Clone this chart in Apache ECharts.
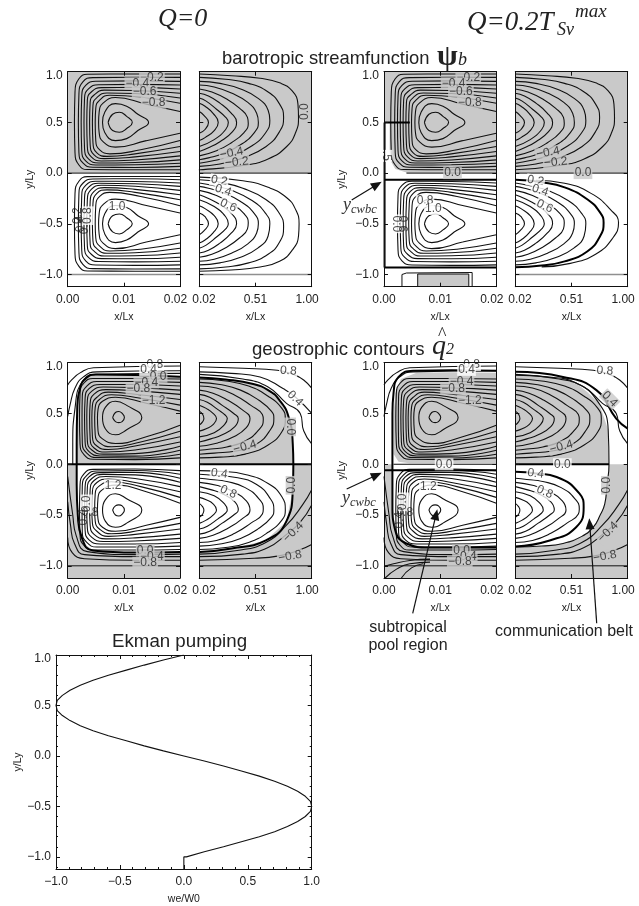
<!DOCTYPE html>
<html><head><meta charset="utf-8">
<style>html,body{margin:0;padding:0;background:#fff}#c{width:639px;height:906px}</style>
<script src="https://cdn.jsdelivr.net/npm/echarts@6/dist/echarts.min.js"></script></head>
<body><div id="c"></div>
<script>
// ---------- tick labels ----------
const yTickValues=[-1,-.5,0,.5,1];
const yLabelPos=[-1,-.5,0,.5,.96];
const yLabels=['−1.0','−0.5','0.0','0.5','1.0'];
const westTicks=[0,.01,.02], westLabelPos=[0,.01,.0192], westLabels=['0.00','0.01','0.02'];
const eastTicks=[.02,.51,1], eastLabelPos=[.06,.51,.96], eastLabels=['0.02','0.51','1.00'];
const ekmanXTicks=[-1,-.5,0,.5,1], ekmanXLabels=['−1.0','−0.5','0.0','0.5','1.0'];
const ekmanYMinor=[-1.1,-.9,-.8,-.7,-.6,-.4,-.3,-.2,-.1,.1,.2,.3,.4,.6,.7,.8,.9];

// ---------- Ekman pumping ----------
const ekmanY=[1,.95,.9,.85,.8,.75,.7,.65,.6,.55,.5,.45,.4,.35,.3,.25,.2,.15,.1,.05,0,-.05,-.1,-.15,-.2,-.25,-.3,-.35,-.4,-.45,-.5,-.55,-.6,-.65,-.7,-.75,-.8,-.85,-.9,-.95,-1,-1,-1.12];
const ekmanWe=[0,-.16,-.31,-.45,-.59,-.71,-.81,-.89,-.95,-.99,-1,-.99,-.95,-.89,-.81,-.71,-.59,-.45,-.31,-.16,0,.16,.31,.45,.59,.71,.81,.89,.95,.99,1,.99,.95,.89,.81,.71,.59,.45,.31,.16,.02,0,0];

// ---------- barotropic streamfunction contours ----------
const psiWestN=[
[[.02,.977],[.012,.977],[.0035,.975],[.002,.93],[.0013,.8],[.0012,.5],[.0013,.2],[.002,.08],[.0035,.035],[.012,.033],[.02,.033]],
[[.02,.944],[.012,.946],[.0045,.942],[.0027,.9],[.002,.78],[.0019,.5],[.002,.2],[.0027,.1],[.0045,.058],[.012,.056],[.02,.066]],
[[.02,.905],[.012,.91],[.005,.906],[.0032,.865],[.0025,.76],[.0024,.5],[.0025,.22],[.0032,.12],[.005,.08],[.012,.082],[.02,.098]],
[[.02,.869],[.012,.875],[.0055,.872],[.0037,.83],[.003,.74],[.0029,.5],[.003,.24],[.0037,.14],[.0055,.1],[.012,.105],[.02,.131]],
[[.02,.83],[.012,.845],[.006,.843],[.0042,.8],[.0035,.72],[.0034,.5],[.0035,.26],[.0042,.16],[.006,.12],[.012,.13],[.02,.17]],
[[.02,.787],[.012,.815],[.0065,.818],[.0047,.77],[.004,.7],[.0039,.5],[.004,.28],[.0047,.18],[.0065,.143],[.012,.16],[.02,.213]],
[[.02,.741],[.012,.785],[.007,.79],[.0052,.745],[.0045,.67],[.0044,.5],[.0045,.3],[.0052,.2],[.007,.165],[.012,.19],[.02,.262]],
[[.02,.689],[.013,.75],[.0075,.768],[.0057,.72],[.005,.64],[.0049,.5],[.005,.32],[.0057,.23],[.0075,.19],[.013,.23],[.02,.321]],
[[.02,.607],[.014,.68],[.0085,.745],[.0063,.69],[.0056,.6],[.0055,.5],[.0056,.4],[.0063,.31],[.0085,.256],[.014,.32],[.02,.393]],
[[.0062,.5],[.0066,.6],[.0085,.685],[.0105,.66],[.0125,.58],[.0144,.5],[.0125,.42],[.0105,.34],[.0085,.32],[.0066,.4],[.0062,.5]],
[[.0072,.5],[.008,.58],[.0092,.6],[.0105,.56],[.0115,.5],[.0105,.44],[.0092,.403],[.008,.42],[.0072,.5]]];
const psiWestS=[
[[.02,-.967],[.012,-.967],[.0035,-.965],[.002,-.92],[.0013,-.8],[.0012,-.5],[.0013,-.2],[.002,-.08],[.0035,-.035],[.012,-.033],[.02,-.033]],
[[.02,-.944],[.012,-.946],[.0045,-.942],[.0027,-.9],[.002,-.78],[.0019,-.5],[.002,-.2],[.0027,-.1],[.0045,-.058],[.012,-.056],[.02,-.066]],
[[.02,-.905],[.012,-.91],[.005,-.906],[.0032,-.865],[.0025,-.76],[.0024,-.5],[.0025,-.22],[.0032,-.12],[.005,-.08],[.012,-.082],[.02,-.098]],
[[.02,-.869],[.012,-.875],[.0055,-.872],[.0037,-.83],[.003,-.74],[.0029,-.5],[.003,-.24],[.0037,-.14],[.0055,-.1],[.012,-.105],[.02,-.131]],
[[.02,-.83],[.012,-.845],[.006,-.843],[.0042,-.8],[.0035,-.72],[.0034,-.5],[.0035,-.26],[.0042,-.16],[.006,-.12],[.012,-.13],[.02,-.17]],
[[.02,-.787],[.012,-.815],[.0065,-.818],[.0047,-.77],[.004,-.7],[.0039,-.5],[.004,-.28],[.0047,-.18],[.0065,-.143],[.012,-.16],[.02,-.213]],
[[.02,-.741],[.012,-.785],[.007,-.79],[.0052,-.745],[.0045,-.67],[.0044,-.5],[.0045,-.3],[.0052,-.2],[.007,-.165],[.012,-.19],[.02,-.262]],
[[.02,-.689],[.013,-.75],[.0075,-.768],[.0057,-.72],[.005,-.64],[.0049,-.5],[.005,-.32],[.0057,-.23],[.0075,-.19],[.013,-.23],[.02,-.321]],
[[.02,-.607],[.014,-.68],[.0085,-.745],[.0063,-.69],[.0056,-.6],[.0055,-.5],[.0056,-.4],[.0063,-.31],[.0085,-.256],[.014,-.32],[.02,-.393]],
[[.0062,-.5],[.0066,-.6],[.0085,-.685],[.0105,-.66],[.0125,-.58],[.0144,-.5],[.0125,-.42],[.0105,-.34],[.0085,-.32],[.0066,-.4],[.0062,-.5]],
[[.0072,-.5],[.008,-.58],[.0092,-.6],[.0105,-.56],[.0115,-.5],[.0105,-.44],[.0092,-.403],[.008,-.42],[.0072,-.5]]];
const psiEastN=[
[[.02,.977],[.3,.96],[.55,.935],[.72,.89],[.83,.81],[.88,.68],[.885,.55],[.86,.4],[.78,.26],[.62,.14],[.4,.075],[.02,.033]],
[[.02,.944],[.25,.925],[.45,.885],[.62,.8],[.72,.68],[.755,.55],[.72,.41],[.6,.26],[.4,.15],[.2,.09],[.02,.066]],
[[.02,.905],[.2,.885],[.38,.83],[.53,.74],[.62,.62],[.635,.52],[.6,.4],[.48,.27],[.3,.17],[.15,.125],[.02,.098]],
[[.02,.869],[.15,.85],[.3,.79],[.44,.7],[.52,.59],[.535,.5],[.5,.4],[.38,.28],[.22,.19],[.1,.15],[.02,.131]],
[[.02,.83],[.13,.8],[.26,.73],[.37,.64],[.44,.55],[.447,.49],[.41,.4],[.3,.3],[.17,.22],[.02,.17]],
[[.02,.787],[.1,.76],[.2,.69],[.3,.59],[.345,.5],[.31,.41],[.2,.31],[.1,.25],[.02,.213]],
[[.02,.741],[.08,.71],[.17,.63],[.25,.55],[.273,.5],[.25,.43],[.15,.33],[.02,.262]],
[[.02,.689],[.07,.66],[.14,.59],[.185,.5],[.15,.42],[.07,.35],[.02,.321]],
[[.02,.607],[.06,.57],[.1,.5],[.07,.43],[.02,.393]]];
const psiEastS=[
[[.02,-.967],[.3,-.955],[.55,-.925],[.72,-.87],[.83,-.76],[.885,-.62],[.89,-.5],[.86,-.36],[.78,-.24],[.62,-.14],[.4,-.075],[.02,-.04]],
[[.02,-.944],[.25,-.925],[.45,-.885],[.62,-.8],[.72,-.68],[.755,-.53],[.72,-.4],[.6,-.26],[.4,-.15],[.2,-.09],[.02,-.066]],
[[.02,-.905],[.2,-.885],[.38,-.83],[.53,-.74],[.62,-.62],[.635,-.5],[.6,-.4],[.48,-.27],[.3,-.17],[.15,-.125],[.02,-.098]],
[[.02,-.869],[.15,-.85],[.3,-.79],[.44,-.7],[.52,-.59],[.535,-.5],[.5,-.4],[.38,-.28],[.22,-.19],[.1,-.15],[.02,-.131]],
[[.02,-.83],[.13,-.8],[.26,-.73],[.37,-.64],[.44,-.55],[.447,-.49],[.41,-.4],[.3,-.3],[.17,-.22],[.02,-.17]],
[[.02,-.787],[.1,-.76],[.2,-.69],[.3,-.59],[.345,-.5],[.31,-.41],[.2,-.31],[.1,-.25],[.02,-.213]],
[[.02,-.741],[.08,-.71],[.17,-.63],[.25,-.55],[.273,-.5],[.25,-.43],[.15,-.33],[.02,-.262]],
[[.02,-.689],[.07,-.66],[.14,-.59],[.185,-.5],[.15,-.42],[.07,-.35],[.02,-.321]],
[[.02,-.607],[.06,-.57],[.1,-.5],[.07,-.43],[.02,-.393]]];
const psiBEastThick=[[.02,-.066],[.25,-.09],[.45,-.14],[.65,-.26],[.76,-.39],[.79,-.49],[.76,-.62],[.65,-.77],[.45,-.87],[.25,-.91],[.02,-.928]];
const psiBEastOuter=[[.2,-.07],[.45,-.1],[.68,-.2],[.85,-.36],[.92,-.49],[.87,-.64],[.72,-.8],[.5,-.89],[.25,-.925]];
const psiBBoxOuter=[[.0032,-1.12],[.0032,-1],[.004,-.985],[.0157,-.98],[.0157,-1.12]];
const psiBBoxInner=[[.006,-1.12],[.006,-.995],[.0151,-.995],[.0151,-1.12]];

// ---------- geostrophic contour lines ----------
const qWestN=[
[[.02,.839],[.012,.845],[.0045,.845],[.0029,.8],[.0022,.7],[.0021,.46],[.0022,.2],[.0029,.095],[.0045,.05],[.012,.046],[.02,.063]],
[[.02,.806],[.012,.815],[.0052,.815],[.0034,.77],[.0026,.67],[.00255,.46],[.0026,.21],[.0034,.11],[.0052,.066],[.012,.062],[.02,.099]],
[[.02,.77],[.012,.785],[.0058,.785],[.0038,.745],[.0031,.65],[.003,.46],[.0031,.22],[.0038,.125],[.0058,.082],[.012,.08],[.02,.138]],
[[.02,.73],[.012,.755],[.0063,.76],[.0043,.72],[.0035,.63],[.0034,.46],[.0035,.23],[.0043,.14],[.0063,.1],[.012,.105],[.02,.178]],
[[.02,.688],[.012,.725],[.0068,.735],[.0047,.69],[.004,.6],[.0039,.46],[.004,.25],[.0047,.16],[.0068,.12],[.012,.14],[.02,.22]],
[[.02,.638],[.012,.69],[.0072,.71],[.0052,.66],[.0044,.58],[.0043,.46],[.0044,.27],[.0052,.18],[.0072,.145],[.012,.18],[.02,.27]],
[[.02,.582],[.013,.65],[.0078,.685],[.0057,.64],[.0049,.56],[.0048,.46],[.0049,.29],[.0057,.21],[.0078,.172],[.013,.22],[.02,.326]],
[[.02,.523],[.014,.6],[.0085,.66],[.0062,.62],[.0054,.54],[.0053,.46],[.0054,.33],[.0062,.25],[.0085,.205],[.014,.27],[.02,.385]],
[[.0062,.46],[.0067,.56],[.0085,.62],[.0105,.58],[.0132,.46],[.0105,.34],[.0085,.29],[.0067,.35],[.0062,.46]],
[[.008,.46],[.0085,.51],[.0091,.52],[.0097,.5],[.0101,.46],[.0097,.42],[.0091,.41],[.0085,.42],[.008,.46]]];
const qWestS=[
[[.02,-.839],[.012,-.845],[.0045,-.845],[.0029,-.8],[.0022,-.7],[.0021,-.45],[.0022,-.2],[.0029,-.095],[.0045,-.05],[.012,-.046],[.02,-.063]],
[[.02,-.806],[.012,-.815],[.0052,-.815],[.0034,-.77],[.0026,-.67],[.00255,-.45],[.0026,-.21],[.0034,-.11],[.0052,-.066],[.012,-.062],[.02,-.099]],
[[.02,-.77],[.012,-.785],[.0058,-.785],[.0038,-.745],[.0031,-.65],[.003,-.45],[.0031,-.22],[.0038,-.125],[.0058,-.082],[.012,-.08],[.02,-.138]],
[[.02,-.73],[.012,-.755],[.0063,-.76],[.0043,-.72],[.0035,-.63],[.0034,-.45],[.0035,-.23],[.0043,-.14],[.0063,-.1],[.012,-.105],[.02,-.178]],
[[.02,-.688],[.012,-.725],[.0068,-.735],[.0047,-.69],[.004,-.6],[.0039,-.45],[.004,-.25],[.0047,-.16],[.0068,-.12],[.012,-.14],[.02,-.22]],
[[.02,-.638],[.012,-.69],[.0072,-.71],[.0052,-.66],[.0044,-.58],[.0043,-.45],[.0044,-.27],[.0052,-.18],[.0072,-.145],[.012,-.18],[.02,-.27]],
[[.02,-.582],[.013,-.65],[.0078,-.685],[.0057,-.64],[.0049,-.56],[.0048,-.45],[.0049,-.29],[.0057,-.21],[.0078,-.172],[.013,-.22],[.02,-.326]],
[[.02,-.523],[.014,-.6],[.0085,-.66],[.0062,-.62],[.0054,-.54],[.0053,-.45],[.0054,-.33],[.0062,-.25],[.0085,-.205],[.014,-.27],[.02,-.385]],
[[.0062,-.45],[.0067,-.56],[.0085,-.62],[.0105,-.58],[.0132,-.45],[.0105,-.34],[.0085,-.29],[.0067,-.35],[.0062,-.45]],
[[.008,-.45],[.0085,-.5],[.0091,-.51],[.0097,-.49],[.0101,-.45],[.0097,-.41],[.0091,-.4],[.0085,-.41],[.008,-.45]]];
const qEastN=[
[[.02,.839],[.25,.82],[.45,.77],[.62,.67],[.74,.55],[.77,.45],[.74,.32],[.62,.19],[.42,.1],[.2,.07],[.02,.063]],
[[.02,.806],[.2,.785],[.38,.73],[.54,.63],[.65,.52],[.67,.45],[.64,.34],[.52,.2],[.34,.13],[.15,.11],[.02,.099]],
[[.02,.77],[.17,.75],[.33,.68],[.47,.58],[.57,.49],[.578,.44],[.54,.34],[.42,.23],[.26,.17],[.12,.15],[.02,.138]],
[[.02,.73],[.14,.7],[.27,.63],[.39,.54],[.462,.45],[.43,.36],[.32,.27],[.18,.21],[.02,.178]],
[[.02,.688],[.11,.66],[.22,.58],[.32,.5],[.36,.45],[.33,.37],[.22,.29],[.12,.25],[.02,.22]],
[[.02,.638],[.09,.61],[.18,.54],[.25,.48],[.264,.45],[.24,.39],[.15,.31],[.02,.27]],
[[.02,.582],[.08,.55],[.14,.5],[.17,.45],[.14,.39],[.08,.35],[.02,.326]],
[[.02,.523],[.05,.49],[.06,.45],[.05,.42],[.02,.385]]];
const qEastS=[
[[.02,-.839],[.25,-.82],[.45,-.77],[.62,-.67],[.74,-.55],[.77,-.45],[.74,-.32],[.62,-.19],[.42,-.1],[.2,-.07],[.02,-.063]],
[[.02,-.806],[.2,-.785],[.38,-.73],[.54,-.63],[.65,-.52],[.67,-.45],[.64,-.34],[.52,-.2],[.34,-.13],[.15,-.11],[.02,-.099]],
[[.02,-.77],[.17,-.75],[.33,-.68],[.47,-.58],[.57,-.49],[.578,-.44],[.54,-.34],[.42,-.23],[.26,-.17],[.12,-.15],[.02,-.138]],
[[.02,-.73],[.14,-.7],[.27,-.63],[.39,-.54],[.462,-.45],[.43,-.36],[.32,-.27],[.18,-.21],[.02,-.178]],
[[.02,-.688],[.11,-.66],[.22,-.58],[.32,-.5],[.36,-.45],[.33,-.37],[.22,-.29],[.12,-.25],[.02,-.22]],
[[.02,-.638],[.09,-.61],[.18,-.54],[.25,-.48],[.264,-.45],[.24,-.39],[.15,-.31],[.02,-.27]],
[[.02,-.582],[.08,-.55],[.14,-.5],[.17,-.45],[.14,-.39],[.08,-.35],[.02,-.326]],
[[.02,-.523],[.05,-.49],[.06,-.45],[.05,-.42],[.02,-.385]]];
const qWestOuterN=[
[[.02,.967],[.0046,.95],[.0022,.9],[.0007,.83],[0,.78]],
[[.02,.92],[.0052,.91],[.0028,.86],[.0013,.75],[.0004,.58],[0,.47]],
[[.0009,0],[.0009,.2],[.0013,.55],[.0028,.83],[.0055,.885],[.02,.895]]];
const qWestOuterS=[
[[0,-.12],[.0009,-.5],[.0015,-.7],[.0035,-.86],[.012,-.89],[.02,-.885]],
[[0,-.37],[.0005,-.6],[.0012,-.78],[.003,-.89],[.012,-.91],[.02,-.91]],
[[0,-.72],[.0008,-.87],[.003,-.93],[.012,-.945],[.02,-.945]]];
const qEastOuterN=[
[[.02,.96],[.4,.945],[.7,.925],[.85,.88],[.93,.83],[1,.75]],
[[.02,.91],[.3,.895],[.55,.86],[.75,.745],[.86,.66],[1,.5]],
[[.02,.885],[.4,.84],[.62,.76],[.78,.6],[.9,.5],[.93,.33],[1,.2]]];
const qEastOuterS=[
[[.02,-.885],[.35,-.85],[.6,-.77],[.78,-.6],[.92,-.4],[1,-.25]],
[[.02,-.91],[.4,-.885],[.62,-.82],[.77,-.7],[.9,-.57],[1,-.4]],
[[.02,-.945],[.5,-.925],[.7,-.905],[.88,-.85],[1,-.79]]];
const qAWestThick=[[.02,.862],[.012,.88],[.005,.885],[.0033,.85],[.0022,.75],[.0017,.55],[.0016,.2],[.0016,0],[.0016,-.2],[.0018,-.5],[.0025,-.72],[.0045,-.85],[.012,-.87],[.02,-.865]];
const qAEastThick=[[.02,.855],[.25,.835],[.49,.79],[.62,.73],[.72,.63],[.8,.46],[.835,.2],[.84,0],[.835,-.25],[.78,-.56],[.6,-.75],[.3,-.83],[.02,-.865]];
const qBWestThick=[[.02,.92],[.012,.925],[.0052,.92],[.0026,.86],[.0017,.7],[.0015,.5],[.0015,0],[.0015,-.06],[.0015,-.4],[.002,-.65],[.004,-.78],[.008,-.82],[.02,-.82]];
const qBWestBottom=[
[[0,-1.006],[.0017,-.98],[.0046,-.947],[.0082,-.934]],
[[.0002,-1.12],[.0023,-1.03],[.0046,-.98],[.0082,-.964]],
[[.0031,-1.12],[.0049,-1.02],[.007,-.98]]];
const qBEastThickN=[[.02,.91],[.436,.86],[.727,.73],[.9,.45],[1,.35]];
const qBEastThickS=[[.02,-.075],[.2,-.09],[.38,-.125],[.58,-.29],[.616,-.42],[.55,-.62],[.32,-.75],[.02,-.81]];
const qBEastEdge=[[.02,.878],[.3,.86],[.55,.8],[.75,.6],[.83,.34],[.837,0],[.82,-.2],[.8,-.39],[.76,-.5],[.7,-.62],[.6,-.71],[.436,-.78],[.25,-.805],[.02,-.815]];

// ---------- shaded regions ----------
const psiWestBand=[[0,0],[.02,0],[.02,1],[0,1]], psiEastBand=[[.02,0],[1,0],[1,1],[.02,1]];
const psiBStrip=[[0,.5],[.001,.5],[.001,.2],[.0012,.12],[.002,.04],[.004,.005],[.004,0],[0,0]];
const psiBBox=[[.006,-1.12],[.006,-.995],[.0151,-.995],[.0151,-1.12]];
const qAWestN=[[.02,.862],[.012,.88],[.005,.885],[.0036,.865],[.0028,.81],[.0022,.75],[.0017,.55],[.0016,.2],[.0016,0],[.02,0]];
const qWestLow=[[0,0],[.02,0],[.02,-1.12],[0,-1.12]], qEastLow=[[.02,0],[1,0],[1,-1.12],[.02,-1.12]];
const qAWestSIn=[[.0016,0],[.0016,-.2],[.0018,-.5],[.0021,-.65],[.0025,-.72],[.0034,-.8],[.0045,-.85],[.012,-.87],[.02,-.865],[.02,0]];
const qAEastN=[[.02,.855],[.25,.835],[.49,.79],[.62,.73],[.72,.63],[.8,.46],[.835,.2],[.84,0],[.02,0]];
const qAEastSIn=[[.84,0],[.835,-.25],[.78,-.56],[.6,-.75],[.3,-.83],[.02,-.865],[.02,0]];
const qBWestN=[[.02,.9],[.012,.905],[.0058,.9],[.003,.84],[.002,.7],[.0017,.5],[.0017,.1],[.0026,.025],[.0045,.01],[.02,.01]];
const qBWestSIn=[[.0015,0],[.0015,-.4],[.002,-.65],[.004,-.78],[.008,-.82],[.02,-.82],[.02,0]];
const qBEastN=[[.02,.878],[.3,.86],[.55,.8],[.65,.71],[.75,.6],[.83,.34],[.837,0],[.02,0]];
const qBEastSIn=[[.02,0],[.837,0],[.82,-.2],[.8,-.39],[.76,-.5],[.7,-.62],[.6,-.71],[.436,-.78],[.25,-.805],[.02,-.815]];

// ---------- contour labels: x, y, text, rotation, background (0 none, 1 grey, 2 white) ----------
const lblPsiAW=[[.015,.944,'−0.2',0,1],[.0124,.885,'−0.4',0,1],[.0137,.803,'−0.6',0,1],[.0153,.695,'−0.8',0,1],[.0088,-.328,'1.0',0,2],[.0018,-.42,'0.2',90,0],[.0024,-.5,'0.4',90,0],[.0031,-.52,'0.6',90,0],[.0036,-.42,'0.8',90,2]];
const lblPsiAE=[[.942,.607,'0.0',90,1],[.302,.197,'−0.4',10,1],[.346,.108,'−0.2',5,1],[.194,-.075,'0.2',-10,2],[.229,-.17,'0.4',-18,2],[.273,-.32,'0.6',-25,2]];
const lblPsiBW=[[.015,.944,'−0.2',0,1],[.0124,.885,'−0.4',0,1],[.0137,.803,'−0.6',0,1],[.0153,.695,'−0.8',0,1],[.0122,0,'0.0',0,1],[.0073,-.272,'0.8',0,2],[.0088,-.354,'1.0',0,2],[.0022,-.5,'0.0',-90,2],[.0032,-.5,'0.6',-90,0],[.0004,.17,'.5',-90,2]];
const lblPsiBE=[[.305,.203,'−0.4',10,1],[.372,.108,'−0.2',5,1],[.61,0,'0.0',0,1],[.197,-.075,'0.2',-10,2],[.238,-.17,'0.4',-18,2],[.276,-.328,'0.6',-25,2]];
const lblQAW=[[.0155,.977,'0.8',0,2],[.0144,.928,'0.4',0,2],[.0161,.862,'0.0',0,1],[.014,.806,'−0.4',0,1],[.0126,.74,'−0.8',0,1],[.0153,.625,'−1.2',0,1],[.0081,-.207,'1.2',0,2],[.0034,-.39,'0.0',90,2],[.0028,-.52,'0.4',90,0],[.004,-.477,'0.8',0,0],[.0138,-.849,'0.0',0,1],[.015,-.914,'−0.4',0,1],[.0138,-.97,'−0.8',0,1]];
const lblQAE=[[.796,.92,'0.8',-5,2],[.855,.648,'0.4',-45,2],[.811,.368,'0.0',-90,1],[.418,.171,'−0.4',15,1],[.194,-.092,'0.4',-8,2],[.273,-.273,'0.8',-25,2],[.825,-.207,'0.0',90,1],[.84,-.668,'−0.4',45,1],[.811,-.908,'−0.8',10,1]];
const lblQBW=[[.0156,.977,'0.8',0,2],[.0147,.928,'0.4',0,2],[.0138,.812,'−0.4',0,1],[.0123,.747,'−0.8',0,1],[.0153,.625,'−1.2',0,1],[.0107,0,'0.0',0,2],[.0079,-.224,'1.2',0,2],[.0034,-.37,'0.0',90,2],[.0028,-.55,'0.4',90,0],[.0037,-.477,'0.8',0,0],[.0138,-.849,'0.0',0,1],[.015,-.914,'0.4',0,1],[.0135,-.964,'−0.8',0,1]];
const lblQBE=[[.8,.92,'0.8',-5,2],[.843,.641,'0.4',-45,1],[.421,.171,'−0.4',15,1],[.43,0,'0.0',0,2],[.197,-.092,'0.4',-8,2],[.276,-.273,'0.8',-25,2],[.82,-.207,'0.0',90,1],[.828,-.668,'−0.4',45,1],[.8,-.908,'−0.8',10,1]];

// ---------- assembly ----------
const GREY='#c9c9c9', INK='#111', FONT='"Liberation Sans",Arial,sans-serif', SERIF='"Liberation Serif","Times New Roman",serif';
const H=(y,a,b)=>[[a,y],[b,y]];
const panels=[
 {rect:[67.7,71.7,112.3,215],west:1,gap:32,fills:[[psiWestBand,GREY]],thin:[...psiWestN,...psiWestS],grey:[H(-1,0,.02)],thick:[],line:[H(0,0,.02)],labels:lblPsiAW},
 {rect:[199.3,71.7,112.4,215],fills:[[psiEastBand,GREY]],thin:[...psiEastN,...psiEastS],grey:[H(-1,.02,1)],thick:[],line:[H(0,.02,1)],labels:lblPsiAE},
 {rect:[384,71.7,112.3,215],west:1,gap:36,fills:[[psiWestBand,GREY],[psiBStrip,'#fff'],[psiBBox,GREY]],thin:[...psiWestN,...psiWestS.slice(2)],grey:[],
  thick:[[[.0001,.5],[.0001,-.93]],H(.5,0,.0046),H(-.066,0,.02),H(-.93,0,.02)],line:[H(0,.004,.02),psiBBoxOuter,psiBBoxInner],labels:lblPsiBW},
 {rect:[515.3,71.7,112.4,215],fills:[[psiEastBand,GREY]],thin:[...psiEastN,...psiEastS.slice(2),psiBEastOuter],grey:[H(-1,.02,1)],thick:[psiBEastThick],line:[H(0,.02,1)],labels:lblPsiBE},
 {rect:[67.7,362.7,112.3,215.3],west:1,gap:32,fills:[[qAWestN,GREY],[qWestLow,GREY],[qAWestSIn,'#fff']],thin:[...qWestN,...qWestS,...qWestOuterN,...qWestOuterS],grey:[],thick:[qAWestThick,H(0,0,.02)],line:[H(-1,0,.02)],labels:lblQAW},
 {rect:[199.3,362.7,112.4,215.3],fills:[[qAEastN,GREY],[qEastLow,GREY],[qAEastSIn,'#fff']],thin:[...qEastN,...qEastS,...qEastOuterN,...qEastOuterS],grey:[],thick:[qAEastThick,H(0,.02,1)],line:[H(-1,.02,1)],labels:lblQAE},
 {rect:[384,362.7,112.3,215.3],west:1,gap:36,fills:[[qBWestN,GREY],[qWestLow,GREY],[qBWestSIn,'#fff']],thin:[...qWestN,...qWestS,...qWestOuterN.slice(0,2),...qWestOuterS,...qBWestBottom],grey:[],thick:[qBWestThick,H(-.06,0,.02)],line:[H(0,.0017,.02),H(-1,0,.02)],labels:lblQBW},
 {rect:[515.3,362.7,112.4,215.3],fills:[[qBEastN,GREY],[qEastLow,GREY],[qBEastSIn,'#fff']],thin:[...qEastN,...qEastS.slice(2),qEastOuterN[0],qEastOuterN[2],...qEastOuterS],grey:[],thick:[qBEastThickN,qBEastThickS,H(0,.02,.837)],curve:[qBEastEdge],line:[H(-1,.02,1)],labels:lblQBE}
];
const grid=[],xAxis=[],yAxis=[],series=[];
const txt={color:'#222',fontFamily:FONT,fontSize:12};
const axLine={show:true,onZero:false,lineStyle:{color:INK,width:1}};
const flat=cs=>{const o=[];cs.forEach((c,i)=>{if(i)o.push(['-','-']);o.push(...c)});return o};
function addAxes(r,xmin,xmax,ymin,ymax,xT,yT,xPos,xLab,yPos,yLab,xName,yName,gap){
 const g=grid.length;grid.push({left:r[0],top:r[1],width:r[2],height:r[3],show:false});
 const xi=xAxis.length,yi=yAxis.length;
 xAxis.push({gridIndex:g,type:'value',min:xmin,max:xmax,position:'bottom',z:10,axisLine:axLine,splitLine:{show:false},
  axisTick:{inside:true,length:4,customValues:xT,lineStyle:{color:INK}},
  axisLabel:{...txt,margin:7,hideOverlap:false,customValues:xPos,formatter:v=>xLab[xPos.indexOf(v)]},
  name:xName,nameLocation:'middle',nameGap:25,nameTextStyle:{...txt,fontSize:10.5}});
 xAxis.push({gridIndex:g,type:'value',min:xmin,max:xmax,position:'top',z:10,axisLine:axLine,splitLine:{show:false},
  axisTick:{inside:true,length:4,customValues:xT,lineStyle:{color:INK}},axisLabel:{show:false}});
 yAxis.push({gridIndex:g,type:'value',min:ymin,max:ymax,position:'left',z:10,axisLine:axLine,splitLine:{show:false},
  axisTick:{inside:true,length:4,customValues:yT,lineStyle:{color:INK}},
  axisLabel:yLab?{...txt,margin:5,hideOverlap:false,customValues:yPos,formatter:v=>yLab[yPos.indexOf(v)]}:{show:false},
  name:yName||'',nameLocation:'middle',nameGap:gap||32,nameTextStyle:{...txt,fontSize:10.5}});
 yAxis.push({gridIndex:g,type:'value',min:ymin,max:ymax,position:'right',z:10,axisLine:axLine,splitLine:{show:false},
  axisTick:{inside:true,length:4,customValues:yT,lineStyle:{color:INK}},axisLabel:{show:false}});
 return {xi,yi,g};
}
const lineS=(a,cs,w,c)=>({type:'line',xAxisIndex:a.xi,yAxisIndex:a.yi,data:flat(cs),showSymbol:false,symbol:'none',smooth:.5,connectNulls:false,
  lineStyle:{color:c,width:w},z:4,silent:true,animation:false,clip:true});
const straightS=(a,cs,w,c)=>Object.assign(lineS(a,cs,w,c),{smooth:false});
panels.forEach(p=>{
 const a=addAxes(p.rect,p.west?0:.02,p.west?.02:1,-1.12,1,p.west?westTicks:eastTicks,yTickValues,
  p.west?westLabelPos:eastLabelPos,p.west?westLabels:eastLabels,yLabelPos,p.west?yLabels:null,'x/Lx',p.west?'y/Ly':'',p.gap);
 p.fills.forEach((f,i)=>series.push({type:'custom',xAxisIndex:a.xi,yAxisIndex:a.yi,z:1+i*.01,silent:true,animation:false,clip:true,
  data:f[0],encode:{x:0,y:1},
  renderItem:(ps,api)=>ps.dataIndex?null:{type:'polygon',shape:{points:f[0].map(q=>api.coord(q))},style:{fill:f[1]}}}));
 series.push(lineS(a,p.thin,1.1,INK));
 if(p.grey.length)series.push(straightS(a,p.grey,1.4,'#8f8f8f'));
 if(p.line.length)series.push(straightS(a,p.line,1,INK));
 if(p.curve)series.push(lineS(a,p.curve,1.1,INK));
 const st=p.thick.filter(c=>c.length===2),cu=p.thick.filter(c=>c.length>2);
 if(st.length)series.push(straightS(a,st,2,'#000'));
 if(cu.length)series.push(lineS(a,cu,2,'#000'));
 series.push({type:'scatter',xAxisIndex:a.xi,yAxisIndex:a.yi,symbolSize:0,z:6,silent:true,animation:false,
  data:p.labels.map(l=>({value:[l[0],l[1]],label:{show:true,position:'inside',formatter:l[2],rotate:l[3],color:'#222',fontFamily:FONT,fontSize:12,
   padding:[0,1],backgroundColor:l[4]==1?GREY:l[4]==2?'#fff':'transparent'}}))});
});
// Ekman panel
const ek=addAxes([56,655,255.7,215],-1,1,-1.12,1,ekmanXTicks,yTickValues,ekmanXTicks,ekmanXLabels,yLabelPos,yLabels,'we/W0','y/Ly',32);
[ek.xi,ek.xi+1].forEach(i=>{const ax=xAxis[i];ax.minorTick={show:true,splitNumber:5,length:2,lineStyle:{color:INK}};delete ax.axisTick.customValues;ax.interval=.5;});
['left','right'].forEach(position=>yAxis.push({gridIndex:ek.g,type:'value',min:-1.12,max:1,position,z:10,axisLine:{show:false,onZero:false},splitLine:{show:false},axisLabel:{show:false},
 axisTick:{inside:true,length:2,customValues:ekmanYMinor,lineStyle:{color:INK}}}));
series.push({type:'line',name:'we/W0',xAxisIndex:ek.xi,yAxisIndex:ek.yi,data:ekmanWe.map((v,i)=>[v,ekmanY[i]]),showSymbol:false,symbol:'none',smooth:false,
 lineStyle:{color:INK,width:1.1},z:4,silent:true,animation:false});

const T=(text,left,top,fontSize,family,style,weight)=>({text,left,top,padding:0,textStyle:{fontSize,fontFamily:family,fontStyle:style||'normal',fontWeight:weight||'normal',color:'#222'}});
const title=[
 T('Q=0',158,6,26,SERIF,'italic'),
 T('Q=0.2T',467,9,27,SERIF,'italic'),T('Sv',557,21,18,SERIF,'italic'),T('max',575,2,19,SERIF,'italic'),
 T('barotropic streamfunction',222,50,18.4,FONT),T('ψ',437,42,30,SERIF,'normal','bold'),T('b',458,51,18,SERIF,'italic'),
 T('geostrophic contours',252,340,18.6,FONT),T('q',432,333,28,SERIF,'italic'),T('^',438,326,18,SERIF),T('2',446,342,16,SERIF,'italic'),
 T('Ekman pumping',112,632,18.7,FONT)
];
const arrow=(x0,y0,x1,y1,w)=>{const a=Math.atan2(y1-y0,x1-x0),L=11,W=4.5,ux=Math.cos(a),uy=Math.sin(a);
 return [{type:'line',z:50,shape:{x1:x0,y1:y0,x2:x1-ux*L*.7,y2:y1-uy*L*.7},style:{stroke:'#111',lineWidth:w||1.2}},
 {type:'polygon',z:50,shape:{points:[[x1,y1],[x1-ux*L-uy*W,y1-uy*L+ux*W],[x1-ux*L+uy*W,y1-uy*L-ux*W]]},style:{fill:'#111'}}]};
const gtext=(text,x,y,fontSize,font,fontStyle,fill,textAlign)=>({type:'text',z:50,x,y,style:{text,fontSize,fontFamily:font,fontStyle:fontStyle||'normal',fill:fill||'#222',textAlign:textAlign||'left',textVerticalAlign:'middle'}});
const graphic=[
 ...arrow(351.7,200,381.7,181.7),...arrow(346.7,489,381.7,472.7),...arrow(412.7,613.3,437.3,509.3),...arrow(596.7,623.3,589.3,518.3),
 gtext('y',343,205,18,SERIF,'italic','#333'),gtext('cwbc',351,210,12.5,SERIF,'italic','#333'),
 gtext('y',342,498,18,SERIF,'italic','#333'),gtext('cwbc',350,503,12.5,SERIF,'italic','#333'),
 gtext('subtropical',408,628,16,FONT,'normal','#222','center'),gtext('pool region',408,646,16,FONT,'normal','#222','center'),
 gtext('communication belt',564,632,16,FONT,'normal','#222','center')
];
const chart=echarts.init(document.getElementById('c'),null,{renderer:'canvas'});
chart.setOption({animation:false,backgroundColor:'#fff',title,grid,xAxis,yAxis,series,graphic});
</script></body></html>
